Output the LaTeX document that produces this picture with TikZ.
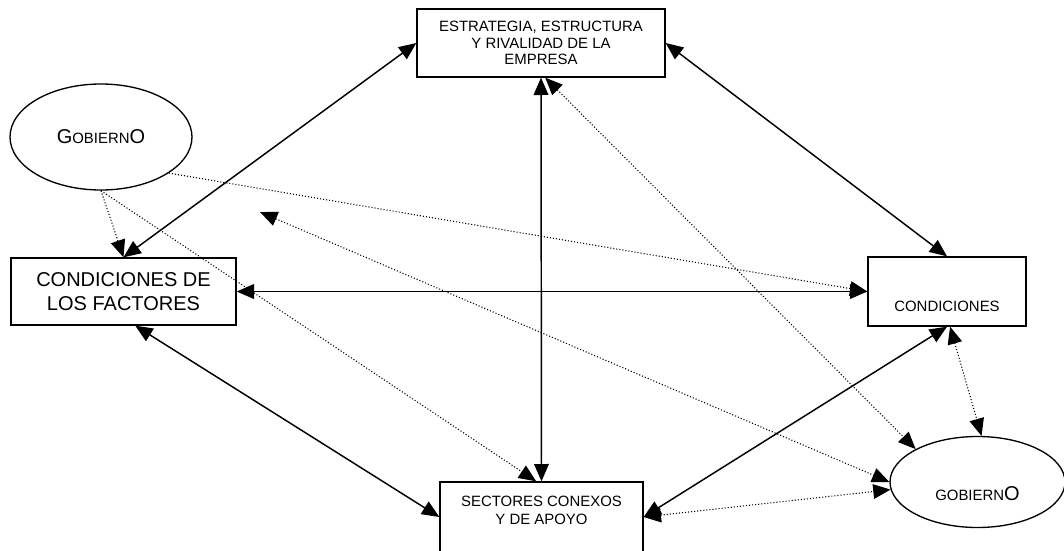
\documentclass[tikz,border=0pt]{standalone}
\usepackage{fontspec}
\setmainfont{Liberation Sans}
\usepackage{tikz}
\usetikzlibrary{arrows.meta,shapes.geometric}

\newcommand{\biglet}[1]{{\fontsize{15}{15}\selectfont #1}}

\begin{document}
\begin{tikzpicture}[x=0.75pt, y=-0.75pt,
    box/.style={rectangle, draw, line width=1pt, inner sep=0pt, align=center, font=\fontsize{11.2}{12.2}\selectfont},
    oval/.style={ellipse, draw, line width=1pt, inner sep=0pt, font=\fontsize{11.2}{12.2}\selectfont},
    arrow/.style={{Triangle[length=13pt,width=11pt]}-{Triangle[length=13pt,width=11pt]}, line width=1.1pt},
    dotarrow/.style={-{Triangle[length=13pt,width=11pt]}, line width=0.8pt, dash pattern=on 0.8pt off 1.5pt},
    dotboth/.style={dotarrow, {Triangle[length=13pt,width=11pt]}-{Triangle[length=13pt,width=11pt]}}
]
    \useasboundingbox (0,0) rectangle (1064,550);
    \clip (0,0) rectangle (1064,550);

    % Nodes
    \node[box, minimum width=186pt, minimum height=51pt] (estr) at (541,43) {ESTRATEGIA, ESTRUCTURA\\Y RIVALIDAD DE LA\\EMPRESA};
    \node[oval, minimum width=136.5pt, minimum height=79.5pt] (gobA) at (101,137) {\biglet{G}OBIERN\biglet{O}};
    \node[box, minimum width=168.75pt, minimum height=50.25pt, font=\fontsize{15}{18}\selectfont] (fact) at (123.5,291.5) {CONDICIONES DE\\LOS FACTORES};
    \node[box, minimum width=118.5pt, minimum height=51.75pt, text height=30.3pt, text depth=0pt] (cond) at (947,291.5) {CONDICIONES};
    \node[oval, minimum width=131.25pt, minimum height=68.25pt, text height=28pt, text depth=0pt] (gobB) at (977.5,482) {GOBIERN\biglet{O}};
    \node[box, minimum width=152.25pt, minimum height=52.5pt] (sect) at (541.5,517) {};
    \node[align=center, inner sep=0pt, font=\fontsize{11.2}{13.5}\selectfont] (sectT) at (541.5,510.7) {SECTORES CONEXOS\\Y DE APOYO};
    \coordinate (free) at (260,212);

    % Arrows
    \draw[arrow] (fact.north) -- (estr.west);
    \draw[arrow] (estr.east) -- (cond.north);
    \draw[arrow] (estr.south) -- (sect.north);
    \draw[arrow] (fact.east) -- (cond.west);
    \draw[arrow] (fact.-71) -- (sect.west);
    \draw[arrow] (cond.south) -- (sect.east);

    % Dotted arrows
    \draw[dotarrow] (gobA.south) -- (fact.north);
    \draw[dotarrow] (gobA.south) -- ([xshift=-4]sect.north);
    \draw[dotarrow] (gobA.-28) -- (cond.west);
    \draw[dotboth] (free) -- (gobB.west);
    \draw[dotboth] (estr.-83) -- (gobB.152);
    \draw[dotboth] (cond.-85) -- (gobB.85);
    \draw[dotboth] (sect.east) -- (gobB.185);
\end{tikzpicture}
\end{document}
